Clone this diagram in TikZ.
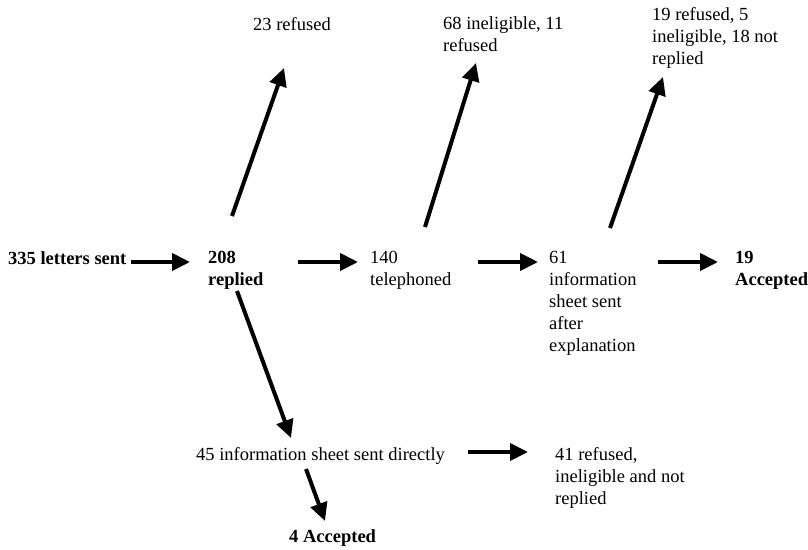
\documentclass[tikz,border=0pt]{standalone}
\usepackage{fontspec}
\setmainfont{Liberation Serif}
\usetikzlibrary{arrows.meta}

\begin{document}
\begin{tikzpicture}[x=1pt,y=1pt,
           label_style/.style={anchor=north west,inner sep=0pt,align=left,
                               font=\fontsize{18.5}{22}\selectfont},
           label_bold_style/.style={label_style,font=\fontsize{18.5}{22}\selectfont\bfseries},
           arrow_style/.style={draw=black,line width=4pt,-{Triangle[length=18pt,width=17pt]}}]
            \useasboundingbox (0,0) rectangle (808,-549);
            \node[label_bold_style] (sent) at (8,-251.4) {335 letters sent};
            \node[label_bold_style] (replied) at (208,-251.4) {208\\replied};
            \node[label_style] (tel) at (370,-251.4) {140\\telephoned};
            \node[label_style] (info) at (549,-251.4) {61\\information\\sheet sent\\after\\explanation};
            \node[label_bold_style] (acc19) at (735,-251.4) {19\\Accepted};
            \node[label_style] (ref23) at (253,-17.4) {23 refused};
            \node[label_style] (inel68) at (443,-16.4) {68 ineligible, 11\\refused};
            \node[label_style] (ref19) at (652,-7.4) {19 refused, 5\\ineligible, 18 not\\replied};
            \node[label_style] (direct) at (196,-447.4) {45 information sheet sent directly};
            \node[label_style] (ref41) at (555,-447.4) {41 refused,\\ineligible and not\\replied};
            \node[label_bold_style] (acc4) at (289,-529.4) {4 Accepted};
            \draw[arrow_style] ([shift={(123,-10.6)}]sent.north west) -- ([shift={(-18,-10.6)}]replied.north west);
            \draw[arrow_style] ([shift={(90,-10.6)}]replied.north west) -- ([shift={(-12,-10.6)}]tel.north west);
            \draw[arrow_style] ([shift={(108,-10.6)}]tel.north west) -- ([shift={(-11,-10.6)}]info.north west);
            \draw[arrow_style] ([shift={(109,-10.6)}]info.north west) -- ([shift={(-17,-10.6)}]acc19.north west);
            \draw[arrow_style] ([shift={(24,35.4)}]replied.north west) -- ([shift={(31,-50.6)}]ref23.north west);
            \draw[arrow_style] ([shift={(55,24.4)}]tel.north west) -- ([shift={(33,-46.6)}]inel68.north west);
            \draw[arrow_style] ([shift={(61,23.4)}]info.north west) -- ([shift={(11,-69.6)}]ref19.north west);
            \draw[arrow_style] ([shift={(29,-39.6)}]replied.north west) -- ([shift={(95,9.4)}]direct.north west);
            \draw[arrow_style] ([shift={(272,-4.6)}]direct.north west) -- ([shift={(-27,-4.6)}]ref41.north west);
            \draw[arrow_style] ([shift={(110,-21.6)}]direct.north west) -- ([shift={(36,8.4)}]acc4.north west);
        \end{tikzpicture}
\end{document}
